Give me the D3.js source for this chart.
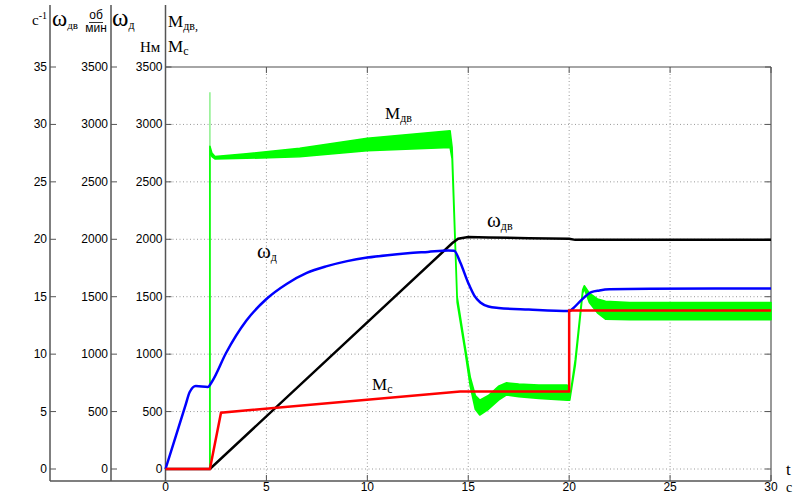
<!DOCTYPE html>
<html>
<head>
<meta charset="UTF-8">
<title>Mдв, ωдв, ωд, Mc</title>
<style>
  body { margin: 0; background: #fff; }
  svg { display: block; }
  .tick { font-family: "Liberation Sans", Arial, sans-serif; font-size: 12px; fill: #000; }
  .lab { font-family: "Liberation Serif", "Times New Roman", serif; fill: #000; }
</style>
</head>
<body>
<svg width="794" height="494"></svg>
<script src="https://d3js.org/d3.v7.min.js"></script>
<script>
// time axis ticks and value ticks
let tTicks = [0, 5, 10, 15, 20, 25, 30];
let vTicks = [0, 500, 1000, 1500, 2000, 2500, 3000, 3500];
let cTicks = [0, 5, 10, 15, 20, 25, 30, 35];

// ω_д (blue)
let wdT = [0, 0.5, 1.0, 1.2, 1.5, 2.1, 2.3, 3, 4, 5, 6, 7, 8, 9, 10, 11, 12, 13, 14, 14.3, 14.6, 15, 15.3, 15.6, 16, 16.5, 18, 20, 20.2, 20.6, 21.1, 21.5, 22, 24, 30];
let wdV = [0, 280, 560, 670, 722, 715, 760, 1010, 1290, 1480, 1611, 1707, 1766, 1810, 1841, 1862, 1878, 1890, 1902, 1900, 1800, 1620, 1510, 1450, 1415, 1402, 1388, 1375, 1400, 1470, 1540, 1555, 1565, 1570, 1572];

// ω_дв (black)
let wdvT = [0, 2.2, 14.2, 14.5, 15, 16, 18, 20, 20.3, 30];
let wdvV = [0, 0, 1965, 2005, 2020, 2015, 2010, 2005, 1995, 1995];

// M_c (red)
let mcT = [0, 2.2, 2.75, 14.6, 20, 20, 30];
let mcV = [0, 0, 490, 675, 675, 1380, 1380];

// M_дв (green) – oscillation envelope
let mdvT  = [0, 2.2, 2.2, 2.3, 2.45, 4, 6.65, 10, 14.1, 14.2, 14.45, 14.83, 15.1, 15.35, 15.57, 16, 16.5, 16.9, 17.5, 18.5, 19.9, 20.03, 20.3, 20.67, 20.75, 21.0, 21.4, 21.8, 23, 30];
let mdvHi = [0, 0, 2810, 2750, 2720, 2745, 2792, 2880, 2945, 2800, 1500, 1080, 800, 640, 600, 640, 720, 750, 740, 730, 731, 620, 950, 1560, 1595, 1530, 1480, 1460, 1450, 1450];
let mdvLo = [0, 0, 2780, 2720, 2700, 2705, 2719, 2771, 2800, 2700, 1450, 1040, 720, 520, 470, 520, 600, 645, 630, 615, 600, 600, 900, 1530, 1570, 1450, 1360, 1305, 1300, 1300];
// start-up spike of M_дв
let spikeT = [2.2, 2.2];
let spikeV = [0, 3280];

let svg = d3.select("svg");

let x = d3.scaleLinear().domain([0, 30]).range([165.5, 771]);
let y = d3.scaleLinear().domain([0, 3500]).range([469, 67]);
let yc = d3.scaleLinear().domain([0, 35]).range([469, 67]);

let bottom = 481;

// grid
let grid = svg.append("g").attr("stroke", "#999").attr("stroke-dasharray", "1,2.5").attr("stroke-width", 1);
grid.selectAll(".gx").data(tTicks.slice(1, -1)).enter().append("line")
    .attr("x1", d => x(d)).attr("x2", d => x(d))
    .attr("y1", y(3500)).attr("y2", bottom);
grid.selectAll(".gy").data(vTicks.slice(0, -1)).enter().append("line")
    .attr("x1", x(0)).attr("x2", x(30))
    .attr("y1", d => y(d)).attr("y2", d => y(d));

// plot frame
svg.append("line").attr("x1", x(0)).attr("x2", x(30)).attr("y1", y(3500)).attr("y2", y(3500))
    .attr("stroke", "#888").attr("stroke-width", 1.5);
svg.append("line").attr("x1", x(30)).attr("x2", x(30)).attr("y1", y(3500)).attr("y2", bottom)
    .attr("stroke", "#555").attr("stroke-width", 1.2);
svg.append("line").attr("x1", 50).attr("x2", x(30)).attr("y1", bottom).attr("y2", bottom)
    .attr("stroke", "#555").attr("stroke-width", 1.5);

// vertical axes
[50, 111, x(0)].forEach(ax => {
    svg.append("line").attr("x1", ax).attr("x2", ax).attr("y1", 5).attr("y2", bottom)
        .attr("stroke", "#555").attr("stroke-width", 1.5);
});

// ticks on the axes
let tk = svg.append("g").attr("stroke", "#555").attr("stroke-width", 1);
[50, 111, x(0)].forEach(ax => {
    tk.selectAll(null).data(vTicks).enter().append("line")
        .attr("x1", ax).attr("x2", ax + 6)
        .attr("y1", d => y(d)).attr("y2", d => y(d));
});
tk.selectAll(null).data(vTicks).enter().append("line")
    .attr("x1", x(30) - 6).attr("x2", x(30))
    .attr("y1", d => y(d)).attr("y2", d => y(d));
tk.selectAll(null).data(tTicks).enter().append("line")
    .attr("x1", d => x(d)).attr("x2", d => x(d))
    .attr("y1", bottom - 6).attr("y2", bottom);
tk.selectAll(null).data(tTicks).enter().append("line")
    .attr("x1", d => x(d)).attr("x2", d => x(d))
    .attr("y1", y(3500)).attr("y2", y(3500) + 6);

// tick labels
svg.selectAll(null).data(cTicks).enter().append("text").attr("class", "tick")
    .attr("x", 47).attr("y", d => yc(d) + 4).attr("text-anchor", "end").text(d => d);
svg.selectAll(null).data(vTicks).enter().append("text").attr("class", "tick")
    .attr("x", 108).attr("y", d => y(d) + 4).attr("text-anchor", "end").text(d => d);
svg.selectAll(null).data(vTicks).enter().append("text").attr("class", "tick")
    .attr("x", x(0) - 3).attr("y", d => y(d) + 4).attr("text-anchor", "end").text(d => d);
svg.selectAll(null).data(tTicks).enter().append("text").attr("class", "tick")
    .attr("x", d => x(d)).attr("y", 491).attr("text-anchor", "middle").text(d => d);

// curves
let toPts = (ts, vs) => ts.map((t, i) => [t, vs[i]]);
let line = d3.line().x(d => x(d[0])).y(d => y(d[1]));
let smooth = d3.line().curve(d3.curveMonotoneX).x(d => x(d[0])).y(d => y(d[1]));

let band = mdvT.map((t, i) => ({t: t, hi: mdvHi[i], lo: mdvLo[i]}));
let area = d3.area().x(d => x(d.t)).y0(d => y(d.lo)).y1(d => y(d.hi));

svg.append("path").attr("d", line(toPts(spikeT, spikeV)))
    .attr("fill", "none").attr("stroke", "#8cf08c").attr("stroke-width", 1.5);
svg.append("path").attr("d", area(band))
    .attr("fill", "#00ff00").attr("stroke", "#00ff00").attr("stroke-width", 1.6)
    .attr("stroke-linejoin", "round");

svg.append("path").attr("d", line(toPts(wdvT, wdvV)))
    .attr("fill", "none").attr("stroke", "#000").attr("stroke-width", 2.5);
svg.append("path").attr("d", smooth(toPts(wdT, wdV)))
    .attr("fill", "none").attr("stroke", "#0000ff").attr("stroke-width", 2.5);
svg.append("path").attr("d", line(toPts(mcT, mcV)))
    .attr("fill", "none").attr("stroke", "#ff0000").attr("stroke-width", 2.5);

// labels in the plot
function lab(px, py, main, sub, size, subSize) {
    let t = svg.append("text").attr("class", "lab").attr("x", px).attr("y", py);
    t.append("tspan").attr("font-size", size).text(main);
    t.append("tspan").attr("font-size", subSize).attr("dy", 3).text(sub);
    return t;
}
lab(385, 119, "M", "дв", 17, 12);
lab(487, 227, "ω", "дв", 21, 12);
lab(257, 258, "ω", "д", 21, 12);
lab(372, 390, "M", "c", 17, 12);

// header labels
let h = svg.append("text").attr("class", "lab").attr("x", 32).attr("y", 25);
h.append("tspan").attr("font-size", 15).text("c");
h.append("tspan").attr("font-size", 10).attr("dy", -6).text("-1");
lab(52, 26, "ω", "дв", 23, 11);
svg.append("text").attr("class", "tick").attr("font-size", 8).attr("x", 96).attr("y", 19)
    .attr("text-anchor", "middle").text("об");
svg.append("line").attr("x1", 89).attr("x2", 103).attr("y1", 22.5).attr("y2", 22.5)
    .attr("stroke", "#000").attr("stroke-width", 0.8);
svg.append("text").attr("class", "tick").attr("font-size", 8).attr("x", 96).attr("y", 31.5)
    .attr("text-anchor", "middle").text("мин");
lab(112, 26, "ω", "д", 25, 12);
svg.append("text").attr("class", "lab").attr("font-size", 15).attr("x", 140).attr("y", 52).text("Нм");
lab(168, 27, "M", "дв,", 17, 12);
lab(168, 52, "M", "c", 17, 12);

// time axis label
svg.append("text").attr("class", "lab").attr("font-size", 17).attr("x", 786).attr("y", 475).text("t");
svg.append("text").attr("class", "lab").attr("font-size", 14).attr("x", 786).attr("y", 492).text("c");
</script>
</body>
</html>
